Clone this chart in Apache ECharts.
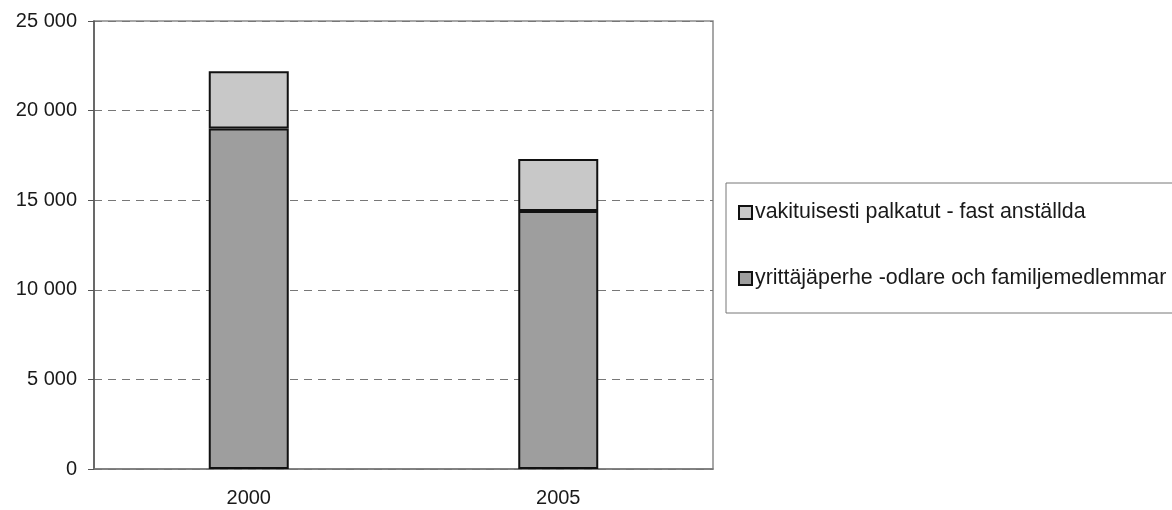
<!DOCTYPE html>
<html>
<head>
<meta charset="utf-8">
<script src="https://cdn.jsdelivr.net/npm/echarts@6/dist/echarts.min.js"></script>
<style>html,body{margin:0;padding:0;background:#fff}#c{width:1172px;height:510px}</style>
</head>
<body>
<div id="c"></div>
<script>
const categories = ['2000', '2005'];
const seriesNames = ['yrittäjäperhe -odlare och familjemedlemmar', 'vakituisesti palkatut - fast anställda'];
const familyValues = [19000, 14400];
const employedValues = [3200, 2900];
const yTicks = [0, 5000, 10000, 15000, 20000, 25000];

const chart = echarts.init(document.getElementById('c'));
const font = 'Liberation Sans, Arial, sans-serif';
chart.setOption({
  animation: false,
  backgroundColor: '#fff',
  grid: { left: 94, right: 459, top: 21, bottom: 41, show: true, borderColor: '#8a8a8a', borderWidth: 1.5, backgroundColor: 'transparent' },
  legend: {
    orient: 'vertical',
    left: 726, top: 183,
    data: [seriesNames[1], seriesNames[0]],
    itemWidth: 13, itemHeight: 13, itemGap: 45,
    padding: [19, 40, 24, 12],
    borderColor: '#777', borderWidth: 1,
    itemStyle: { borderColor: '#111', borderWidth: 2 },
    textStyle: { fontFamily: font, fontSize: 21.4, color: '#1a1a1a', padding: [0, 0, 0, -2] },
    icon: 'rect'
  },
  xAxis: {
    type: 'category', data: categories,
    axisLine: { show: true, lineStyle: { color: '#777', width: 1.5 } },
    axisTick: { show: false },
    axisLabel: { fontFamily: font, fontSize: 20, color: '#1a1a1a', margin: 19 }
  },
  yAxis: {
    type: 'value', min: yTicks[0], max: yTicks[yTicks.length - 1], interval: 5000,
    axisLine: { show: true, lineStyle: { color: '#555', width: 1.5 } },
    axisTick: { show: true, inside: false, length: 6, lineStyle: { color: '#555' } },
    axisLabel: { fontFamily: font, fontSize: 20, color: '#1a1a1a', margin: 17,
      formatter: v => String(v).replace(/\B(?=(\d{3})+(?!\d))/g, ' ') },
    splitLine: { show: true, lineStyle: { color: '#777', type: [8, 6], width: 1 } }
  },
  series: [
    { name: seriesNames[0], type: 'bar', stack: 's', data: familyValues, barWidth: 80,
      itemStyle: { color: '#9e9e9e', borderColor: '#111', borderWidth: 2 } },
    { name: seriesNames[1], type: 'bar', stack: 's', data: employedValues, barWidth: 80,
      itemStyle: { color: '#c8c8c8', borderColor: '#111', borderWidth: 2 } }
  ]
});
</script>
</body>
</html>
